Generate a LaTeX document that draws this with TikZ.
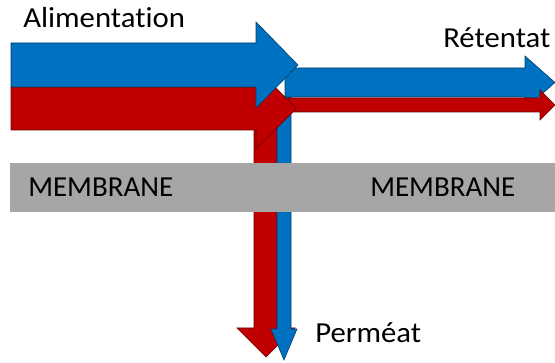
\documentclass[tikz,border=0pt]{standalone}
\usepackage{fontspec}
\usepackage{xcolor}
\usepackage{tikz}
\setmainfont{Carlito}[Ligatures=NoCommon]
\newfontfamily\flowfont{Carlito}[Ligatures=NoCommon, FakeStretch=1.06]
\definecolor{feedblue}{HTML}{0070C0}
\definecolor{feedred}{HTML}{C00000}
\definecolor{membranegray}{HTML}{A6A6A6}

\begin{document}
\begin{tikzpicture}[x=1pt, y=-1pt, line width=0.6pt, line join=miter,
			bluearrow/.style={fill=feedblue, draw=feedblue!55!black},
			redarrow/.style={fill=feedred, draw=feedred!55!black},
			membrane/.style={fill=membranegray, draw=none},
			lbl/.style={inner sep=0pt, anchor=base west,
				font=\fontsize{29}{34}\selectfont},
			flowlbl/.style={lbl, font=\flowfont\fontsize{29}{34}\selectfont}]
		\useasboundingbox (0, 0) rectangle (555, 363);

		% permeat (under everything)
		\draw[redarrow] (254, 125) -- (277, 125) -- (277, 328) -- (295, 328)
			-- (266, 357) -- (237, 328) -- (254, 328) -- cycle;
		\draw[bluearrow] (277, 97) -- (291, 97) -- (291, 329) -- (297, 329)
			-- (284, 360) -- (271, 329) -- (277, 329) -- cycle;

		% retentat
		\draw[bluearrow] (285, 68) -- (525, 68) -- (525, 56) -- (555, 82.5)
			-- (525, 109) -- (525, 97) -- (285, 97) -- cycle;
		\draw[redarrow] (288, 98) -- (540, 98) -- (540, 90) -- (555, 105)
			-- (540, 120) -- (540, 112) -- (288, 112) -- cycle;

		% alimentation
		\draw[redarrow] (11, 87) -- (256, 87) -- (256, 68) -- (296.5, 108.5)
			-- (256, 149) -- (256, 130) -- (11, 130) -- cycle;
		\draw[bluearrow] (11, 43) -- (256, 43) -- (256, 22) -- (298, 65)
			-- (256, 108) -- (256, 87) -- (11, 87) -- cycle;

		% membrane on top
		\fill[membrane] (10, 163) rectangle (555, 212);

		\node[flowlbl] (feed) at (23, 28) {Alimentation};
		\node[flowlbl] (ret) at (443, 48) {Rétentat};
		\node[flowlbl] (perm) at (315, 343) {Perméat};
		\node[lbl] (memleft) at (28, 197) {MEMBRANE};
		\node[lbl] (memright) at (370, 197) {MEMBRANE};
	\end{tikzpicture}
\end{document}
